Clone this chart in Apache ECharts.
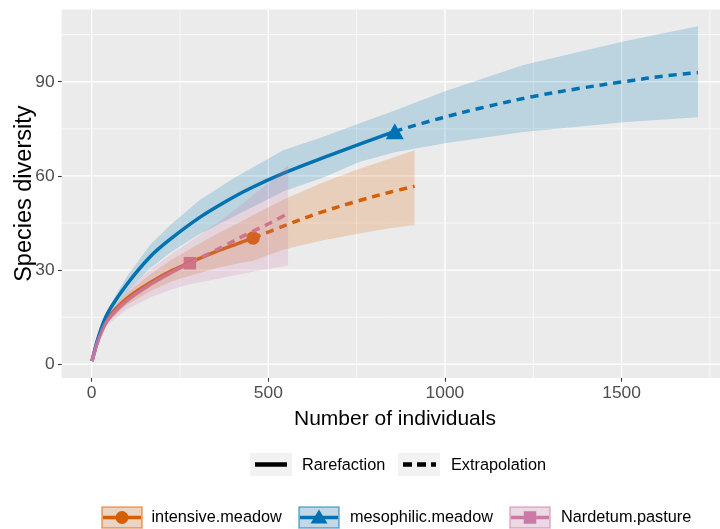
<!DOCTYPE html>
<html>
<head>
<meta charset="utf-8">
<script src="https://cdn.jsdelivr.net/npm/echarts@6/dist/echarts.min.js"></script>
<style>
  html, body { margin: 0; padding: 0; background: #ffffff; }
  #chart { width: 720px; height: 529px; }
</style>
</head>
<body>
<div id="chart"></div>
<script>
// Species rarefaction (solid) and extrapolation (dashed) curves with 95% bands.

// Axis ticks and grid lines
const xTicks = [0, 500, 1000, 1500];
const xMinor = [250, 750, 1250, 1750];
const yTicks = [0, 30, 60, 90];
const yMinor = [15, 45, 75, 105];

const groupNames = ['intensive.meadow', 'mesophilic.meadow', 'Nardetum.pasture'];
const groupColors = ['#D55E00', '#0072B2', '#CC79A7'];
const methodNames = ['Rarefaction', 'Extrapolation'];

// intensive.meadow
const intRareN = [1, 20, 45, 100, 170, 230, 280, 350, 410, 457];
const intRareS = [1, 8.5, 14.5, 21.0, 26.3, 30.0, 32.5, 35.8, 38.3, 40.2];
const intExtN = [457, 542, 646, 750, 844, 914];
const intExtS = [40.2, 44.0, 48.3, 51.9, 54.8, 56.7];
const intBandN = [1, 20, 45, 100, 170, 230, 280, 350, 410, 457, 542, 646, 750, 844, 914];
const intBandLo = [1, 8, 13.5, 19, 23.5, 26.5, 28.3, 30.5, 32, 33, 36.5, 39.3, 41.5, 43.3, 44.4];
const intBandHi = [1, 9, 15.5, 22.8, 29, 33.5, 36.8, 41.3, 44.8, 47.5, 52.4, 57.5, 62, 65.5, 68.2];
const intObs = [457, 40.2];

// mesophilic.meadow
const mesRareN = [1, 20, 45, 100, 165, 222, 306, 382, 448, 542, 656, 778, 858];
const mesRareS = [1, 9, 16.2, 25.5, 34.2, 39.8, 46.8, 52.0, 56.0, 60.8, 65.8, 70.9, 74.2];
const mesExtN = [858, 985, 1108, 1250, 1382, 1505, 1627, 1716];
const mesExtS = [74.2, 78.3, 81.8, 85.3, 87.9, 90.0, 91.9, 92.9];
const mesBandN = [1, 20, 45, 100, 165, 222, 306, 401, 542, 656, 759, 858, 1000, 1222, 1505, 1716];
const mesBandLo = [1, 8, 14.8, 23, 30.5, 35.5, 41.5, 47, 55, 59.5, 64.5, 67.5, 70.4, 74, 77.1, 78.7];
const mesBandHi = [1, 10, 17.6, 28, 38, 44.3, 52.3, 59.2, 68.2, 72.5, 76.8, 80.8, 87, 95.3, 102.8, 107.7];
const mesObs = [858, 74.2];

// Nardetum.pasture
const narRareN = [1, 20, 45, 100, 170, 230, 278];
const narRareS = [1, 8, 14, 20.3, 25.7, 29.5, 32.2];
const narExtN = [278, 368, 448, 514, 556];
const narExtS = [32.2, 37.3, 41.9, 45.5, 48.1];
const narBandN = [1, 20, 45, 100, 170, 230, 278, 368, 448, 514, 556];
const narBandLo = [1, 7.5, 12.5, 17.5, 21.5, 24, 25.5, 27.5, 29.3, 30.6, 31.5];
const narBandHi = [1, 8.5, 15.5, 23.5, 30.5, 35.5, 39, 46, 53, 59, 63.5];
const narObs = [278, 32.2];

const X_MIN = -84.75, X_MAX = 1801.75;
const Y_MIN = -4.33, Y_MAX = 113.0;
const FONT = "'Liberation Sans', Arial, sans-serif";

const zip = (a, b) => a.map((v, i) => [v, b[i]]);

function hexToRgba(hex, a) {
  const n = parseInt(hex.slice(1), 16);
  return 'rgba(' + ((n >> 16) & 255) + ',' + ((n >> 8) & 255) + ',' + (n & 255) + ',' + a + ')';
}
function mixOnGrey(hex, a) {
  const n = parseInt(hex.slice(1), 16);
  const bg = 242;
  const c = [(n >> 16) & 255, (n >> 8) & 255, n & 255].map(v => Math.round(a * v + (1 - a) * bg));
  return 'rgb(' + c.join(',') + ')';
}

function gridSeries(values, vertical, major) {
  return {
    type: 'custom', silent: true, z: 0, clip: false,
    data: values.map(v => vertical ? [v, 0] : [0, v]),
    renderItem: function (params, api) {
      let p1, p2;
      if (vertical) {
        const v = api.value(0);
        p1 = api.coord([v, Y_MIN]); p2 = api.coord([v, Y_MAX]);
      } else {
        const v = api.value(1);
        p1 = api.coord([X_MIN, v]); p2 = api.coord([X_MAX, v]);
      }
      return {
        type: 'line',
        shape: { x1: p1[0], y1: p1[1], x2: p2[0], y2: p2[1] },
        style: { stroke: '#FFFFFF', lineWidth: major ? 1.4 : 0.7 }
      };
    }
  };
}

function bandSeries(name, N, lo, hi, color) {
  return {
    name: name, type: 'custom', silent: true, z: 4, clip: false,
    data: N.map((n, i) => [n, lo[i], hi[i]]),
    encode: { x: 0, y: [1, 2] },
    renderItem: function (params, api) {
      if (params.dataIndex !== 0) return null;
      const pts = [];
      for (let i = 0; i < N.length; i++) pts.push(api.coord([N[i], hi[i]]));
      for (let i = N.length - 1; i >= 0; i--) pts.push(api.coord([N[i], lo[i]]));
      return { type: 'polygon', shape: { points: pts }, style: { fill: hexToRgba(color, 0.2) } };
    }
  };
}

function curveSeries(name, N, S, color, dashed) {
  return {
    name: name, type: 'line', silent: true, z: 3,
    data: zip(N, S), symbol: 'none',
    smooth: 0.35,
    lineStyle: { color: color, width: 3.5, type: dashed ? [8, 6] : 'solid', cap: 'butt' }
  };
}

function obsSeries(name, pt, color, symbol, size) {
  return {
    name: name, type: 'scatter', silent: true, z: 2,
    data: [pt], symbol: symbol, symbolSize: size,
    itemStyle: { color: color, opacity: 1 }
  };
}

const series = [
  gridSeries(xMinor, true, false),
  gridSeries(yMinor, false, false),
  gridSeries(xTicks, true, true),
  gridSeries(yTicks, false, true),
  obsSeries(groupNames[0], intObs, groupColors[0], 'circle', 13.5),
  obsSeries(groupNames[1], mesObs, groupColors[1], 'triangle', [18, 16]),
  obsSeries(groupNames[2], narObs, groupColors[2], 'rect', 12.5),
  curveSeries(groupNames[0], intRareN, intRareS, groupColors[0], false),
  curveSeries(groupNames[0], intExtN, intExtS, groupColors[0], true),
  curveSeries(groupNames[1], mesRareN, mesRareS, groupColors[1], false),
  curveSeries(groupNames[1], mesExtN, mesExtS, groupColors[1], true),
  curveSeries(groupNames[2], narRareN, narRareS, groupColors[2], false),
  curveSeries(groupNames[2], narExtN, narExtS, groupColors[2], true),
  bandSeries(groupNames[0], intBandN, intBandLo, intBandHi, groupColors[0]),
  bandSeries(groupNames[1], mesBandN, mesBandLo, mesBandHi, groupColors[1]),
  bandSeries(groupNames[2], narBandN, narBandLo, narBandHi, groupColors[2])
];

// Legend: line type keys
const legendText = { fill: '#000000', fontSize: 16.3, fontFamily: FONT, verticalAlign: 'middle' };
const graphics = [
  { type: 'rect', shape: { x: 250, y: 453, width: 42, height: 23 }, style: { fill: '#F2F2F2' }, silent: true },
  { type: 'line', shape: { x1: 255, y1: 464.5, x2: 287, y2: 464.5 }, style: { stroke: '#000', lineWidth: 4.5 }, silent: true },
  { type: 'text', x: 302, y: 466, style: Object.assign({ text: methodNames[0] }, legendText), silent: true },
  { type: 'rect', shape: { x: 398, y: 453, width: 42, height: 23 }, style: { fill: '#F2F2F2' }, silent: true },
  { type: 'line', shape: { x1: 403, y1: 464.5, x2: 436, y2: 464.5 }, style: { stroke: '#000', lineWidth: 4.5, lineDash: [9, 5] }, silent: true },
  { type: 'text', x: 451, y: 466, style: Object.assign({ text: methodNames[1] }, legendText), silent: true }
];

// Legend: group keys (band + line + marker)
const keyX = [102, 299, 510];
const textX = [151.5, 350, 561];
const keyY = 507, keyW = 40, keyH = 21;
groupNames.forEach((g, i) => {
  const c = groupColors[i];
  const cx = keyX[i] + keyW / 2, cy = keyY + keyH / 2;
  graphics.push({ type: 'rect', shape: { x: keyX[i], y: keyY, width: keyW, height: keyH },
    style: { fill: mixOnGrey(c, 0.2), stroke: hexToRgba(c, 0.55), lineWidth: 1.6 }, silent: true });
  graphics.push({ type: 'line', shape: { x1: keyX[i] + 1, y1: cy, x2: keyX[i] + keyW - 1, y2: cy },
    style: { stroke: c, lineWidth: 3.5 }, silent: true });
  if (i === 0) {
    graphics.push({ type: 'circle', shape: { cx: cx, cy: cy, r: 6.5 }, style: { fill: c }, silent: true });
  } else if (i === 1) {
    graphics.push({ type: 'polygon', shape: { points: [[cx, cy - 8], [cx - 8.5, cy + 6], [cx + 8.5, cy + 6]] }, style: { fill: c }, silent: true });
  } else {
    graphics.push({ type: 'rect', shape: { x: cx - 6.25, y: cy - 6.25, width: 12.5, height: 12.5 }, style: { fill: c }, silent: true });
  }
  graphics.push({ type: 'text', x: textX[i], y: cy, style: Object.assign({ text: g }, legendText), silent: true });
});

const chart = echarts.init(document.getElementById('chart'), null, { renderer: 'canvas' });
chart.setOption({
  animation: false,
  backgroundColor: '#FFFFFF',
  grid: {
    left: 61.7, right: -8.2, top: 9.5, bottom: 151.1,
    outerBoundsMode: 'none', containLabel: false,
    show: true, backgroundColor: '#EBEBEB', borderWidth: 0
  },
  xAxis: {
    type: 'value', min: X_MIN, max: X_MAX,
    name: 'Number of individuals', nameLocation: 'middle', nameGap: 30.5,
    nameMoveOverlap: false,
    nameTextStyle: { color: '#000000', fontSize: 21, fontFamily: FONT },
    axisLine: { show: false, onZero: false },
    splitLine: { show: false },
    axisTick: { show: true, customValues: xTicks, length: 3.7, lineStyle: { color: '#333333', width: 1.1 } },
    axisLabel: { customValues: xTicks, color: '#4D4D4D', fontSize: 17.4, fontFamily: FONT, margin: 7,
      formatter: v => String(v) }
  },
  yAxis: {
    type: 'value', min: Y_MIN, max: Y_MAX,
    name: 'Species diversity', nameLocation: 'middle', nameGap: 25,
    nameMoveOverlap: false,
    nameTextStyle: { color: '#000000', fontSize: 23.5, fontFamily: FONT },
    axisLine: { show: false, onZero: false },
    splitLine: { show: false },
    axisTick: { show: true, customValues: yTicks, length: 3.7, lineStyle: { color: '#333333', width: 1.1 } },
    axisLabel: { customValues: yTicks, color: '#4D4D4D', fontSize: 17.4, fontFamily: FONT, margin: 7,
      formatter: v => String(v) }
  },
  graphic: graphics,
  series: series
});
</script>
</body>
</html>
